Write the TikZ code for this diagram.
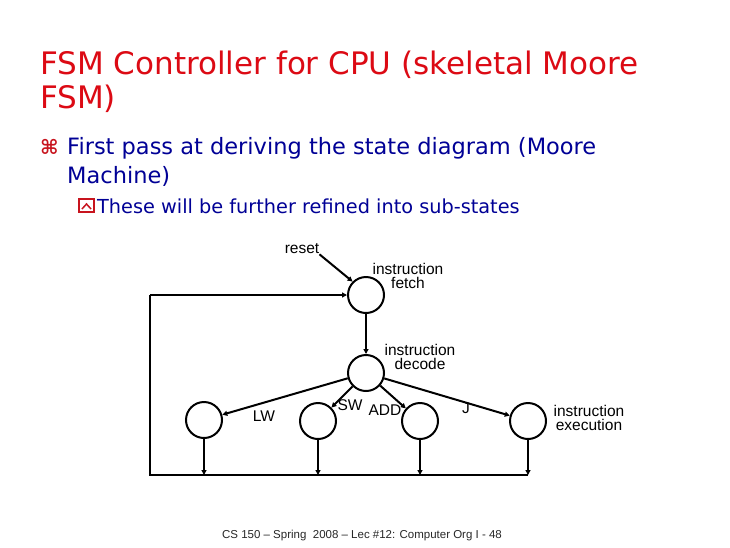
\documentclass[tikz,border=0pt]{standalone}
\usepackage{fontspec}
\usepackage{graphicx}
\setmainfont{DejaVu Sans}
\newfontfamily\labfont{Liberation Sans}
\newfontfamily\symfont{DejaVu Sans}
\usetikzlibrary{arrows.meta}
\definecolor{titlered}{RGB}{220,10,20}
\definecolor{bodyblue}{RGB}{0,0,150}
\definecolor{bulletred}{RGB}{200,20,30}
\definecolor{footgray}{RGB}{40,40,40}
\begin{document}
\begin{tikzpicture}[x=1pt,y=-1pt,
  state/.style={circle,draw,line width=2pt,minimum size=36pt,inner sep=0pt},
  edge/.style={line width=2pt,-{Triangle[length=5pt,width=5pt]}},
  wire/.style={line width=2pt},
  lab/.style={font=\labfont\fontsize{15.5}{14}\selectfont,inner sep=0pt},
  titletext/.style={font=\fontsize{31}{31}\selectfont,text=titlered,anchor=base west,inner sep=0pt},
  bodytext/.style={font=\fontsize{22.5}{22.5}\selectfont,text=bodyblue,anchor=base west,inner sep=0pt},
  subtext/.style={font=\fontsize{19.3}{19.3}\selectfont,text=bodyblue,anchor=base west,inner sep=0pt}]
\useasboundingbox[fill=white] (0,0) rectangle (730,547);
% title
\node[titletext] (t1) at (40,74) {FSM Controller for CPU (skeletal Moore};
\node[titletext] (t2) at (40,108) {FSM)};
% bullets
\node[font=\symfont\bfseries\fontsize{20}{20}\selectfont,text=bulletred,anchor=base west,inner sep=0] (b1) at (40,154) {⌘};
\node[bodytext] (l1) at (67,154) {First pass at deriving the state diagram (Moore};
\node[bodytext] (l2) at (67,183) {Machine)};
\draw[bulletred,line width=1.5pt] (79,199) rectangle (94,212);
\draw[bulletred,line width=1.5pt] (82,209) -- (86.5,204) -- (91,209);
\node[subtext] (l3) at (97,213) {These will be further refined into sub-states};
% states
\node[state] (fetch) at (366,295) {};
\node[state] (decode) at (366,373) {};
\node[state] (s1) at (204,420) {};
\node[state] (s2) at (318,421) {};
\node[state] (s3) at (420,421) {};
\node[state] (s4) at (528,421) {};
% labels
\node[lab,align=center] (lf) at (408,276) {instruction\\fetch};
\node[lab,align=center] (ld) at (420,357) {instruction\\decode};
\node[lab,align=center] (le) at (589,418) {instruction\\execution};
\node[lab] (reset) at (302,249) {reset};
\node[lab] (lw) at (264,416) {LW};
\node[lab] (sw) at (350,405) {SW};
\node[lab] (add) at (385,410) {ADD};
\node[lab] (jl) at (466,408) {J};
% connectors
\draw[edge] (reset.south east) -- (fetch.135);
\draw[edge] (fetch) -- (decode);
\draw[edge] (decode) -- (s1);
\draw[edge] (decode) -- (s2);
\draw[edge] (decode) -- (s3);
\draw[edge] (decode) -- (s4);
\coordinate (bl) at (150,475);
\coordinate (tl) at (150,295);
\coordinate (p1) at (204,475);
\coordinate (p2) at (318,475);
\coordinate (p3) at (420,475);
\coordinate (p4) at (528,475);
\draw[edge] (s1) -- (p1);
\draw[edge] (s2) -- (p2);
\draw[edge] (s3) -- (p3);
\draw[edge] (s4) -- (p4);
\draw[wire] (p4) -- (bl) -- (tl);
\draw[edge] (tl) -- (fetch);
% footer
\node[font=\labfont\fontsize{11.5}{11.5}\selectfont,text=footgray,inner sep=0] (foot) at (362,536) {CS 150 – Spring\ \ 2008 – Lec \#12: Computer Org I - 48};
\end{tikzpicture}
\end{document}
